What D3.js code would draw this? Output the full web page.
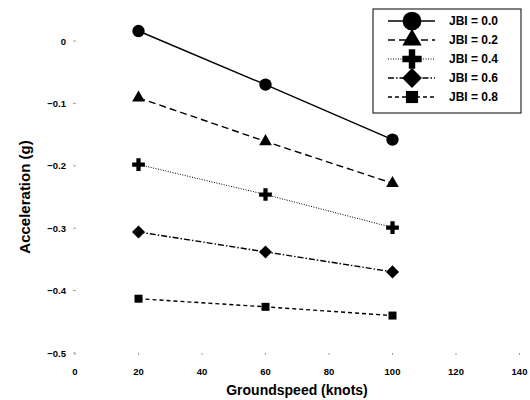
<!DOCTYPE html>
<html>
<head>
<meta charset="utf-8">
<script src="https://cdn.jsdelivr.net/npm/d3@7"></script>
<style>
body { margin: 0; background: #fff; }
text { font-family: "Liberation Sans", Arial, sans-serif; font-weight: bold; fill: #000; }
</style>
</head>
<body>
<div id="chart"></div>
<script>
// data
var speeds = [20, 60, 100];
var seriesNames = ["JBI = 0.0", "JBI = 0.2", "JBI = 0.4", "JBI = 0.6", "JBI = 0.8"];
var jbi00 = [0.016, -0.070, -0.158];
var jbi02 = [-0.091, -0.161, -0.228];
var jbi04 = [-0.198, -0.246, -0.299];
var jbi06 = [-0.306, -0.338, -0.370];
var jbi08 = [-0.413, -0.426, -0.440];
var xTicks = [0, 20, 40, 60, 80, 100, 120, 140];
var yTicks = [0, -0.1, -0.2, -0.3, -0.4, -0.5];

var allSeries = [jbi00, jbi02, jbi04, jbi06, jbi08];
var dashes = [null, "7,4", "1,1.5", "6,2,1.5,2", "4,3"];
var symbols = [d3.symbolCircle, d3.symbolTriangle, d3.symbolCross, d3.symbolSquare, d3.symbolSquare];
var symRot = [0, 0, 0, 45, 0];
var symSizes = [120, 70, 90, 85, 64];
var legendScale = 2.3;

var width = 530, height = 400;

var svg = d3.select("#chart").append("svg")
    .attr("width", width)
    .attr("height", height);

var x = d3.scaleLinear().domain([0, 140]).range([75, 519.5]);
var y = d3.scaleLinear().domain([0, -0.5]).range([41, 353]);

// faint tick marks (the frame itself is not drawn in the original)
svg.selectAll(".ytick").data(yTicks).enter().append("line")
    .attr("x1", 73).attr("x2", 76)
    .attr("y1", d => y(d)).attr("y2", d => y(d))
    .attr("stroke", "#888").attr("stroke-width", 0.8);

svg.selectAll(".xtick").data(xTicks).enter().append("line")
    .attr("x1", d => x(d)).attr("x2", d => x(d))
    .attr("y1", 353).attr("y2", 355)
    .attr("stroke", "#888").attr("stroke-width", 0.8);

svg.selectAll(".ylab").data(yTicks).enter().append("text")
    .attr("x", 66)
    .attr("y", d => y(d) + 3.5)
    .attr("text-anchor", "end")
    .style("font-size", "9.5px")
    .text(d => d === 0 ? "0" : d3.format(".1f")(d));

svg.selectAll(".xlab").data(xTicks).enter().append("text")
    .attr("x", d => x(d))
    .attr("y", 375)
    .attr("text-anchor", "middle")
    .style("font-size", "9.5px")
    .text(d => d);

svg.append("text")
    .attr("x", 297)
    .attr("y", 395)
    .attr("text-anchor", "middle")
    .style("font-size", "14px")
    .text("Groundspeed (knots)");

svg.append("text")
    .attr("transform", "translate(30,197) rotate(-90)")
    .attr("text-anchor", "middle")
    .style("font-size", "15px")
    .text("Acceleration (g)");

var line = d3.line()
    .x((d, i) => x(speeds[i]))
    .y(d => y(d));

allSeries.forEach(function(vals, k) {
    var g = svg.append("g");
    g.append("path")
        .attr("d", line(vals))
        .attr("fill", "none")
        .attr("stroke", "#000")
        .attr("stroke-width", k == 2 ? 1 : 1.4)
        .attr("stroke-dasharray", dashes[k]);
    g.selectAll("path.m").data(vals).enter().append("path")
        .attr("class", "m")
        .attr("transform", (d, i) => "translate(" + x(speeds[i]) + "," + y(d) + ") rotate(" + symRot[k] + ")")
        .attr("d", d3.symbol().type(symbols[k]).size(symSizes[k]))
        .attr("fill", "#000");
});

// legend
var legend = svg.append("g").attr("id", "legend");
legend.append("rect")
    .attr("x", 373).attr("y", 9)
    .attr("width", 148).attr("height", 104)
    .attr("fill", "#fff")
    .attr("stroke", "#000")
    .attr("stroke-width", 1);

seriesNames.forEach(function(name, k) {
    var ry = 21 + k * 19;
    legend.append("line")
        .attr("x1", 388).attr("x2", 435)
        .attr("y1", ry).attr("y2", ry)
        .attr("stroke", "#000")
        .attr("stroke-width", k == 2 ? 1 : 1.4)
        .attr("stroke-dasharray", dashes[k]);
    legend.append("path")
        .attr("transform", "translate(412," + ry + ") rotate(" + symRot[k] + ")")
        .attr("d", d3.symbol().type(symbols[k]).size(symSizes[k] * legendScale))
        .attr("fill", "#000");
    legend.append("text")
        .attr("x", 449)
        .attr("y", ry + 4)
        .style("font-size", "12px")
        .text(name);
});
</script>
</body>
</html>
